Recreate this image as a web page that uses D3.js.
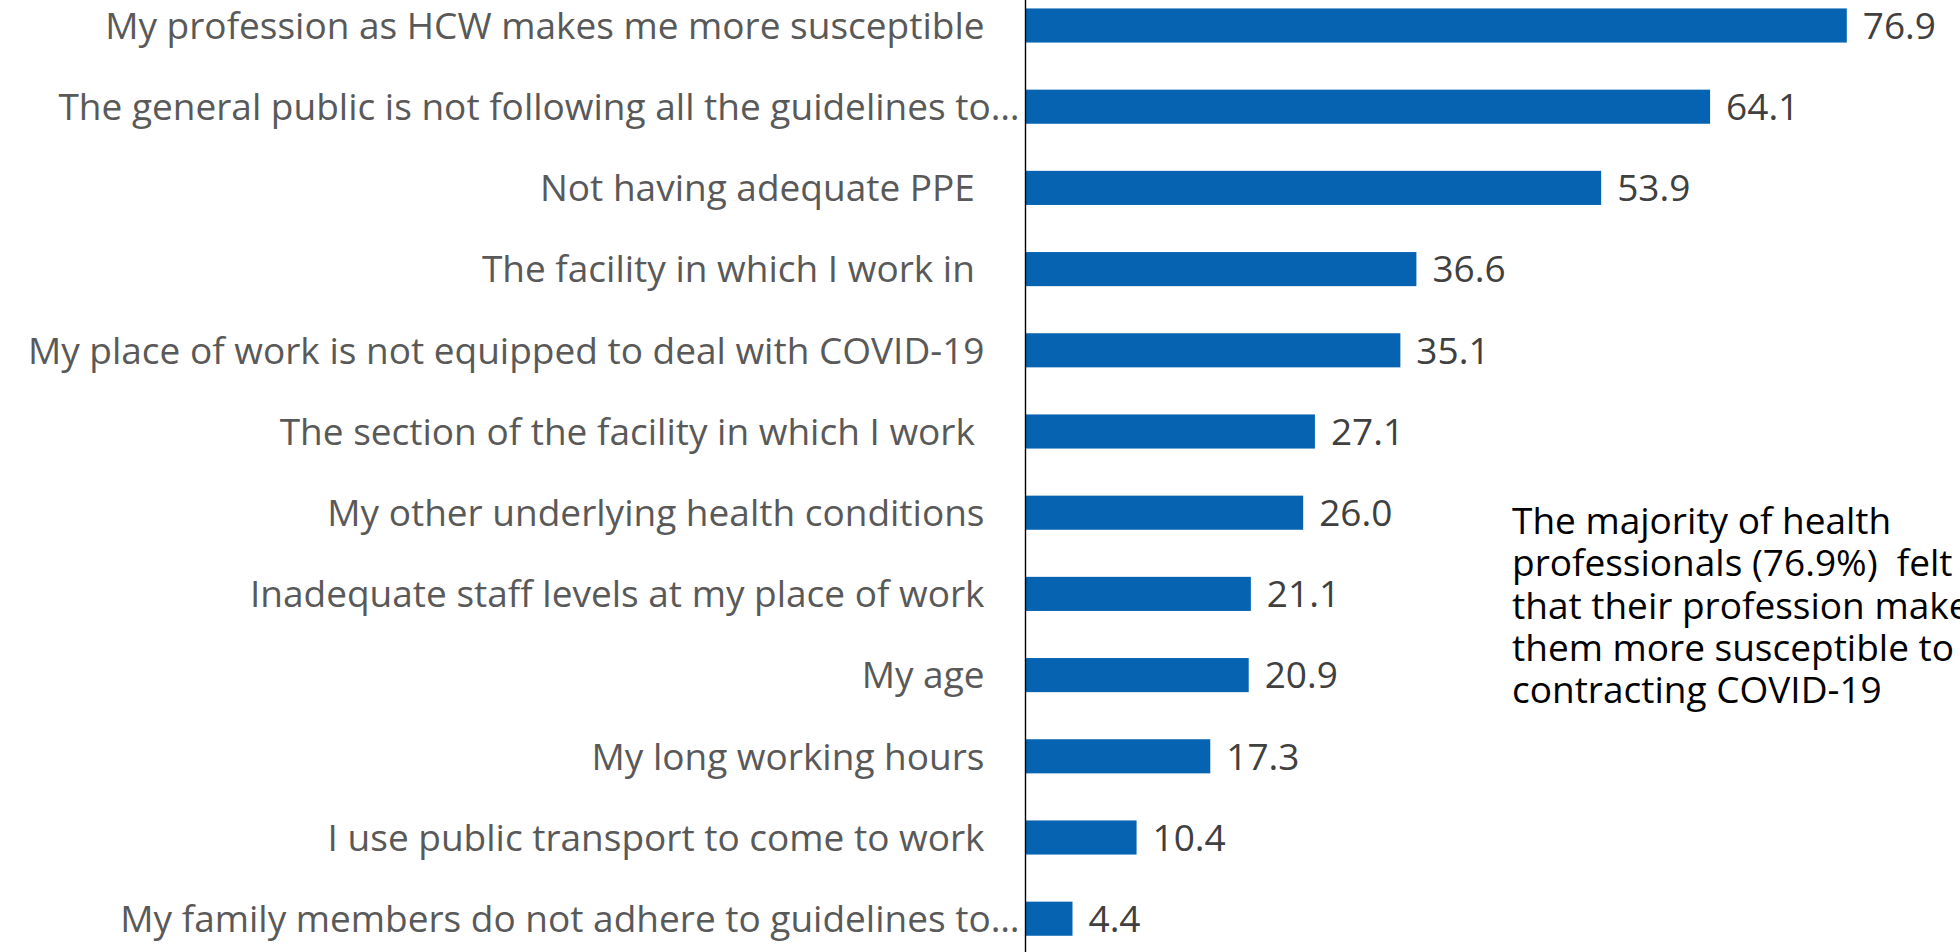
<!DOCTYPE html>
<html>
<head>
<meta charset="utf-8">
<script src="https://cdn.jsdelivr.net/npm/d3@7"></script>
<style>
  html, body { margin: 0; padding: 0; background: #fff; }
  svg { display: block; }
  text { font-family: "Open Sans", "Noto Sans", sans-serif; white-space: pre; }
</style>
</head>
<body>
<svg id="chart" width="1960" height="952"></svg>
<script>
const categories = [
  "My profession as HCW makes me more susceptible",
  "The general public is not following all the guidelines to…",
  "Not having adequate PPE ",
  "The facility in which I work in ",
  "My place of work is not equipped to deal with COVID-19",
  "The section of the facility in which I work ",
  "My other underlying health conditions",
  "Inadequate staff levels at my place of work",
  "My age",
  "My long working hours",
  "I use public transport to come to work",
  "My family members do not adhere to guidelines to…"
];
const values = [76.9, 64.1, 53.9, 36.6, 35.1, 27.1, 26.0, 21.1, 20.9, 17.3, 10.4, 4.4];
const noteLines = [
  "The majority of health",
  "professionals (76.9%)  felt",
  "that their profession makes",
  "them more susceptible to",
  "contracting COVID-19"
];

const W = 1960, H = 952;
const axisX = 1025.5;
const svg = d3.select("#chart");

const x = d3.scaleLinear().domain([0, 1]).range([axisX, axisX + 10.68]);
const y = d3.scaleBand().domain(categories).range([-15.1, 959.3])
  .paddingInner(0.58).paddingOuter(0.29);

// bars
svg.append("g").selectAll("rect").data(values).join("rect")
  .attr("x", x(0))
  .attr("y", (d, i) => y(categories[i]))
  .attr("width", d => x(d) - x(0))
  .attr("height", y.bandwidth())
  .attr("fill", "#0563B1");

// value labels
svg.append("g").selectAll("text").data(values).join("text")
  .attr("x", d => x(d) + 16)
  .attr("y", (d, i) => y(categories[i]) + y.bandwidth() / 2)
  .attr("dy", "0.36em")
  .attr("font-size", 37)
  .attr("fill", "#404040")
  .text(d => d3.format(".1f")(d));

// category labels
svg.append("g").selectAll("text").data(categories).join("text")
  .attr("x", d => d.endsWith("…") ? axisX - 6 : axisX - 41)
  .attr("y", d => y(d) + y.bandwidth() / 2)
  .attr("dy", "0.36em")
  .attr("text-anchor", "end")
  .attr("font-size", 37)
  .attr("fill", "#595959")
  .text(d => d);

// axis line
svg.append("line")
  .attr("x1", axisX).attr("x2", axisX)
  .attr("y1", 0).attr("y2", H)
  .attr("stroke", "#000").attr("stroke-width", 1.4);

// annotation
svg.append("g").selectAll("text").data(noteLines).join("text")
  .attr("x", 1512)
  .attr("y", (d, i) => 534 + i * 42.3)
  .attr("font-size", 37)
  .attr("fill", "#000")
  .text(d => d);
</script>
</body>
</html>
